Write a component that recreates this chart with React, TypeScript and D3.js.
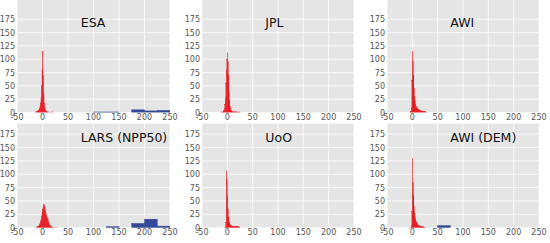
import React from 'react';
import { scaleLinear, range } from 'd3';

// red histograms: 1-unit bins starting at *From
const esaRedFrom = -15;
const esaRed = [0, 1, 1, 2, 2, 3, 3, 4, 5, 8, 12, 18, 28, 50, 80, 115, 70, 35, 18, 10, 6, 3, 2, 2, 1, 1, 0, 1, 0, 0, 1, 0, 0, 1, 0, 1];
const jplRedFrom = -12;
const jplRed = [1, 1, 1, 1, 2, 4, 8, 15, 28, 55, 80, 100, 112, 95, 70, 40, 22, 12, 7, 4, 3, 2, 2, 1, 1, 2, 1, 1, 1, 2, 1, 1, 0, 1, 1, 0, 1, 0];
const awiRedFrom = -4;
const awiRed = [1, 2, 10, 60, 115, 95, 70, 45, 30, 22, 15, 12, 10, 8, 7, 6, 5, 5, 4, 4, 3, 3, 3, 3, 2, 2, 2, 2, 2, 1, 1, 1];
const larsRedFrom = -13;
const larsRed = [1, 1, 1, 2, 2, 3, 4, 6, 8, 12, 16, 22, 28, 35, 40, 44, 42, 38, 33, 28, 24, 20, 16, 18, 12, 8, 6, 5, 3, 2, 2, 1, 1, 1, 0, 1, 0, 0, 1, 0, 0, 1];
const uooRedFrom = -5;
const uooRed = [1, 2, 10, 107, 90, 60, 35, 20, 12, 8, 6, 5, 4, 3, 3, 3, 2, 2, 2, 3, 2, 2, 3, 2, 2, 2, 1, 2, 1, 1];
const demRedFrom = -3;
const demRed = [1, 5, 30, 130, 85, 60, 40, 28, 20, 15, 12, 10, 8, 6, 5, 4, 4, 3, 3, 3, 2, 2, 2, 2, 2, 1, 1, 1, 1];

// blue histograms: 25-unit bins
const esaBlueEdges = [100, 125, 150, 175, 200, 225];
const esaBlue = [1, 1, 0, 5, 3, 4];
const larsBlueEdges = [125, 150, 175, 200, 225];
const larsBlue = [2, 0, 8, 16, 3];
const demBlueEdges = [50];
const demBlue = [4];

const titles = ['ESA', 'JPL', 'AWI', 'LARS (NPP50)', 'UoO', 'AWI (DEM)'];
const xTicks = [-50, 0, 50, 100, 150, 200, 250];
const yTicks = [0, 25, 50, 75, 100, 125, 150, 175];

const RED = '#e8141b';
const BLUE = '#33499c';
const FONT = 'DejaVu Sans, sans-serif';

type Hist = { from: number; counts: number[] };
type Blue = { edges: number[]; counts: number[] };

const Panel = (props: any) => {
  const { id, x0, x1, yBase, yTop, yMax, title, red, blue } = props;
  const xScale = scaleLinear().domain([-50, 250]).range([x0, x1]);
  const yScale = scaleLinear().domain([0, yMax]).range([yBase, yTop]);
  const h = red as Hist;
  const b = blue as Blue | null;

  return (
    <g>
      <defs>
        <clipPath id={`clip-${id}`}>
          <rect x={x0} y={yTop} width={x1 - x0} height={yBase - yTop} />
        </clipPath>
      </defs>
      <rect x={x0} y={yTop} width={x1 - x0} height={yBase - yTop + 0.5} fill="#e5e5e5" />
      {xTicks.map(t => (
        <line key={'gx' + t} x1={xScale(t)} x2={xScale(t)} y1={yTop} y2={yBase} stroke="#fff" strokeWidth={0.8} />
      ))}
      {yTicks.map(t => (
        <line key={'gy' + t} x1={x0} x2={x1} y1={yScale(t)} y2={yScale(t)} stroke="#fff" strokeWidth={0.8} />
      ))}
      <g clipPath={`url(#clip-${id})`}>
        {h.counts.map((c, i) => {
          const v = h.from + i;
          const xa = xScale(v);
          const xb = xScale(v + 1);
          return c > 0 ? (
            <rect key={'r' + i} x={xa} y={yScale(c)} width={xb - xa} height={yBase - yScale(c)}
              fill={RED} stroke={RED} strokeWidth={0.3} />
          ) : null;
        })}
        {b && b.counts.map((c, i) => {
          const xa = xScale(b.edges[i]);
          const xb = xScale(b.edges[i] + 25);
          return c > 0 ? (
            <rect key={'b' + i} x={xa} y={yScale(c)} width={xb - xa} height={yBase - yScale(c)}
              fill={BLUE} stroke="#2a3f8a" strokeWidth={0.4} />
          ) : null;
        })}
      </g>
      {xTicks.map(t => (
        <text key={'tx' + t} x={xScale(t)} y={yBase + 7.5} textAnchor="middle"
          fontSize={8} fill="#555" fontFamily={FONT}>{t}</text>
      ))}
      {yTicks.map(t => (
        <text key={'ty' + t} x={x0 - 2} y={yScale(t) + 3} textAnchor="end"
          fontSize={8} fill="#555" fontFamily={FONT}>{t}</text>
      ))}
      <text x={xScale(75)} y={yScale(160)} fontSize={12.5} fill="#111" fontFamily={FONT}>{title}</text>
    </g>
  );
};

const App = () => {
  const cols = [[17, 170], [202, 354], [387, 539]];
  const rows = [
    { yBase: 112.5, yTop: 0, yMax: 211 },
    { yBase: 227.7, yTop: 123.5, yMax: 195 },
  ];
  const reds: Hist[] = [
    { from: esaRedFrom, counts: esaRed },
    { from: jplRedFrom, counts: jplRed },
    { from: awiRedFrom, counts: awiRed },
    { from: larsRedFrom, counts: larsRed },
    { from: uooRedFrom, counts: uooRed },
    { from: demRedFrom, counts: demRed },
  ];
  const blues: (Blue | null)[] = [
    { edges: esaBlueEdges, counts: esaBlue },
    null,
    null,
    { edges: larsBlueEdges, counts: larsBlue },
    null,
    { edges: demBlueEdges, counts: demBlue },
  ];

  return (
    <svg width={550} height={243} style={{ position: 'absolute', left: 0, top: 0, background: '#fff' }}>
      {range(6).map(i => {
        const c = cols[i % 3];
        const r = rows[Math.floor(i / 3)];
        return (
          <Panel key={i} id={i} x0={c[0]} x1={c[1]} yBase={r.yBase} yTop={r.yTop} yMax={r.yMax}
            title={titles[i]} red={reds[i]} blue={blues[i]} />
        );
      })}
    </svg>
  );
};

export default App;
